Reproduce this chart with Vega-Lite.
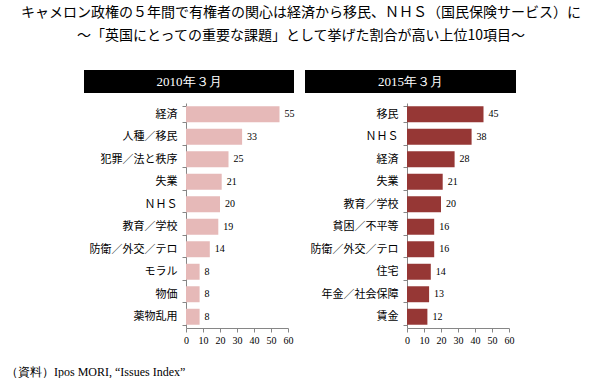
{
  "$schema": "https://vega.github.io/schema/vega-lite/v6.json",
  "padding": {"left": 6, "top": 6, "right": 0, "bottom": 0},
  "title": {
    "text": ["キャメロン政権の５年間で有権者の関心は経済から移民、ＮＨＳ（国民保険サービス）に", "～「英国にとっての重要な課題」として挙げた割合が高い上位10項目～"],
    "font": "Noto Sans CJK JP",
    "fontSize": 14,
    "fontWeight": "normal",
    "color": "#000000",
    "lineHeight": 23,
    "anchor": "middle",
    "dx": 40,
    "offset": 27
  },
  "vconcat": [
    {
      "title": {
        "text": "（資料）Ipos MORI, “Issues Index”",
        "orient": "bottom",
        "anchor": "start",
        "font": "Liberation Serif",
        "fontSize": 12,
        "fontWeight": "normal",
        "color": "#000000",
        "dx": -78,
        "offset": 22
      },
      "spacing": 10,
      "hconcat": [
        {
          "spacing": 4,
          "vconcat": [
            {
              "width": 210,
              "height": 23,
              "view": {"fill": "#000000", "stroke": null},
              "data": {"values": [{"period": "2010年３月"}]},
              "mark": {"type": "text", "color": "#ffffff", "font": "Liberation Serif", "fontSize": 13},
              "encoding": {"text": {"field": "period", "type": "nominal"}}
            },
            {
              "width": 210,
              "height": 225,
              "data": {"values": [
                {"item": "経済", "pct": 55},
                {"item": "人種／移民", "pct": 33},
                {"item": "犯罪／法と秩序", "pct": 25},
                {"item": "失業", "pct": 21},
                {"item": "ＮＨＳ", "pct": 20},
                {"item": "教育／学校", "pct": 19},
                {"item": "防衛／外交／テロ", "pct": 14},
                {"item": "モラル", "pct": 8},
                {"item": "物価", "pct": 8},
                {"item": "薬物乱用", "pct": 8}
              ]},
              "encoding": {
                "y": {"field": "item", "type": "nominal", "sort": null,
                  "scale": {"paddingInner": 0.29, "paddingOuter": 0.145},
                  "axis": {"title": null, "offset": -102, "labelFont": "Noto Sans CJK JP", "labelFontSize": 11, "labelColor": "#000000", "domainColor": "#868686", "tickColor": "#868686", "tickSize": 4, "labelPadding": 5, "tickBand": "extent", "grid": false}},
                "x": {"field": "pct", "type": "quantitative",
                  "scale": {"domain": [0, 60], "nice": false, "range": [102, 204]},
                  "axis": {"title": null, "values": [0, 10, 20, 30, 40, 50, 60], "labelFlush": false, "labelOverlap": false, "labelFont": "Liberation Serif", "labelFontSize": 10, "labelColor": "#000000", "domainColor": "#868686", "tickColor": "#868686", "tickSize": 4, "labelPadding": 3, "grid": false}}
              },
              "layer": [
                {"mark": {"type": "bar", "color": "#e6b9b8"}},
                {"mark": {"type": "text", "align": "left", "dx": 5, "font": "Liberation Serif", "fontSize": 10, "color": "#000000"},
                 "encoding": {"text": {"field": "pct", "type": "quantitative"}}}
              ]
            }
          ]
        },
        {
          "spacing": 4,
          "vconcat": [
            {
              "width": 211,
              "height": 23,
              "view": {"fill": "#000000", "stroke": null},
              "data": {"values": [{"period": "2015年３月"}]},
              "mark": {"type": "text", "color": "#ffffff", "font": "Liberation Serif", "fontSize": 13},
              "encoding": {"text": {"field": "period", "type": "nominal"}}
            },
            {
              "width": 211,
              "height": 225,
              "data": {"values": [
                {"item": "移民", "pct": 45},
                {"item": "ＮＨＳ", "pct": 38},
                {"item": "経済", "pct": 28},
                {"item": "失業", "pct": 21},
                {"item": "教育／学校", "pct": 20},
                {"item": "貧困／不平等", "pct": 16},
                {"item": "防衛／外交／テロ", "pct": 16},
                {"item": "住宅", "pct": 14},
                {"item": "年金／社会保障", "pct": 13},
                {"item": "賃金", "pct": 12}
              ]},
              "encoding": {
                "y": {"field": "item", "type": "nominal", "sort": null,
                  "scale": {"paddingInner": 0.29, "paddingOuter": 0.145},
                  "axis": {"title": null, "offset": -102, "labelFont": "Noto Sans CJK JP", "labelFontSize": 11, "labelColor": "#000000", "domainColor": "#868686", "tickColor": "#868686", "tickSize": 4, "labelPadding": 5, "tickBand": "extent", "grid": false}},
                "x": {"field": "pct", "type": "quantitative",
                  "scale": {"domain": [0, 60], "nice": false, "range": [102, 204]},
                  "axis": {"title": null, "values": [0, 10, 20, 30, 40, 50, 60], "labelFlush": false, "labelOverlap": false, "labelFont": "Liberation Serif", "labelFontSize": 10, "labelColor": "#000000", "domainColor": "#868686", "tickColor": "#868686", "tickSize": 4, "labelPadding": 3, "grid": false}}
              },
              "layer": [
                {"mark": {"type": "bar", "color": "#963735"}},
                {"mark": {"type": "text", "align": "left", "dx": 5, "font": "Liberation Serif", "fontSize": 10, "color": "#000000"},
                 "encoding": {"text": {"field": "pct", "type": "quantitative"}}}
              ]
            }
          ]
        }
      ]
    }
  ],
  "config": {
    "view": {"stroke": null},
    "font": "Noto Sans CJK JP"
  }
}
